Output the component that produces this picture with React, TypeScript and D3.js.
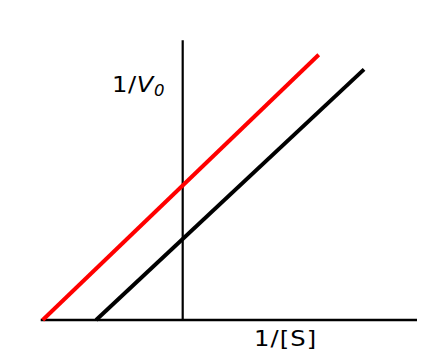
import React from "react";
import * as d3 from "d3";

// Lineweaver-Burk lines: [x, y] endpoints in data units
const redLine: [number, number][] = [
  [-0.986, 0],
  [0.958, 1.868],
];
const blackLine: [number, number][] = [
  [-0.61, 0],
  [1.277, 1.765],
];
const xDomain = [-1, 1.65];
const yDomain = [0, 1.97];
const xLabel = "1/[S]";
const yLabelMain = "1/V";
const yLabelSub = "0";

export default function App() {
  const W = 440;
  const H = 356;
  const x = d3.scaleLinear().domain(xDomain).range([40.7, 417]);
  const y = d3.scaleLinear().domain(yDomain).range([320, 40.3]);
  const line = d3
    .line<[number, number]>()
    .x((d) => x(d[0]))
    .y((d) => y(d[1]));
  const font = "'DejaVu Sans', Verdana, sans-serif";
  return (
    <svg
      width={W}
      height={H}
      style={{ position: "absolute", left: 0, top: 0, background: "#fff" }}
    >
      {/* horizontal axis */}
      <line x1={x(xDomain[0])} x2={x(xDomain[1])} y1={y(0)} y2={y(0)} stroke="#000" strokeWidth={2.5} />
      {/* vertical axis */}
      <line x1={x(0)} x2={x(0)} y1={y(0)} y2={y(yDomain[1])} stroke="#000" strokeWidth={2.2} />
      <path d={line(redLine) || ""} stroke="#ff0000" strokeWidth={4} fill="none" />
      <path d={line(blackLine) || ""} stroke="#000" strokeWidth={4} fill="none" />
      <g transform="translate(112,92) scale(1.1,1)">
        <text x={0} y={0} fontFamily={font} fontSize={22} fill="#000" letterSpacing={0.6}>
          {yLabelMain.slice(0, 2)}
          <tspan fontStyle="italic">{yLabelMain.slice(2)}</tspan>
          <tspan fontStyle="italic" fontSize={15} dy={4}>{yLabelSub}</tspan>
        </text>
      </g>
      <g transform="translate(254,346) scale(1.1,1)">
        <text x={0} y={0} fontFamily={font} fontSize={22} fill="#000" letterSpacing={1}>
          {xLabel}
        </text>
      </g>
    </svg>
  );
}
